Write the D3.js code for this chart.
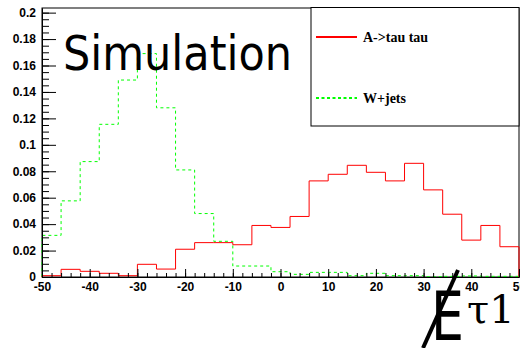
<!DOCTYPE html>
<html>
<head>
<meta charset="utf-8">
<script src="https://cdn.jsdelivr.net/npm/d3@7"></script>
<style>
  body { margin: 0; background: #fff; }
  svg { display: block; }
  .axis text { font-family: "Liberation Sans", Arial, sans-serif; font-weight: bold; font-size: 12px; fill: #000; }
  .axis path, .axis line { stroke: #000; }
</style>
</head>
<body>
<svg id="chart" width="520" height="348"></svg>
<script>
var svg = d3.select("#chart");

// bin edges: -50 .. 50, width 4
var binEdges = d3.range(-50, 50, 4);
var signalValues = [0.001, 0.0058, 0.0043, 0.0028, 0.001, 0.0096, 0.006, 0.021, 0.026, 0.026,
  0.0244, 0.039, 0.0375, 0.0458, 0.0727, 0.0777, 0.0845, 0.0792, 0.0727, 0.086,
  0.0659, 0.0475, 0.0279, 0.039, 0.0229];
var wjetsValues = [0.0315, 0.0576, 0.0873, 0.1155, 0.149, 0.169, 0.128, 0.081, 0.048, 0.027,
  0.0083, 0.0083, 0.004, 0.002, 0.0035, 0.0035, 0.001, 0.0028, 0.001, 0.001,
  0.0002, 0.0005, 0.0008, 0.0005, 0.0005];
var xTicks = [-50, -40, -30, -20, -10, 0, 10, 20, 30, 40, 50];
var yTicks = [0, 0.02, 0.04, 0.06, 0.08, 0.1, 0.12, 0.14, 0.16, 0.18, 0.2];
var legendNames = ["A->tau tau", "W+jets"];
var legendColors = ["#ff0000", "#00ff00"];

var padLeft = 42, padRight = 519, padTop = 8, padBottom = 277;

var xScale = d3.scaleLinear().domain([-50, 50]).range([padLeft, padRight]);
var yScale = d3.scaleLinear().domain([0, 0.2035]).range([padBottom, padTop]);

// frame
svg.append("rect")
  .attr("x", padLeft).attr("y", padTop)
  .attr("width", padRight - padLeft).attr("height", padBottom - padTop)
  .attr("fill", "none").attr("stroke", "#000");

var step = d3.line()
  .x(function(d){ return xScale(d.x); })
  .y(function(d){ return yScale(d.y); })
  .curve(d3.curveStepAfter);

function histPoints(values){
  var pts = [{x: -50, y: 0}];
  for(var i = 0; i < values.length; i++){
    pts.push({x: binEdges[i], y: values[i]});
  }
  pts.push({x: 50, y: values[values.length - 1]});
  pts.push({x: 50, y: 0});
  return pts;
}

svg.append("path")
  .datum(histPoints(wjetsValues))
  .attr("d", step)
  .attr("fill", "none")
  .attr("stroke", legendColors[1])
  .attr("stroke-width", 1)
  .attr("stroke-dasharray", "3,3");

svg.append("path")
  .datum(histPoints(signalValues))
  .attr("d", step)
  .attr("fill", "none")
  .attr("stroke", legendColors[0])
  .attr("stroke-width", 1);

// y axis (ticks pointing inside)
var yAxis = d3.axisLeft(yScale)
  .tickValues(yTicks)
  .tickSizeInner(-14).tickSizeOuter(0).tickPadding(6)
  .tickFormat(function(d){ return d === 0 ? "0" : String(+d.toFixed(2)); });
var yMinor = d3.axisLeft(yScale)
  .tickValues(d3.range(0, 0.2035, 0.005))
  .tickSizeInner(-7).tickSizeOuter(0)
  .tickFormat("");

svg.append("g").attr("class", "axis")
  .attr("transform", "translate(" + padLeft + ",0)")
  .call(yMinor);
svg.append("g").attr("class", "axis")
  .attr("transform", "translate(" + padLeft + ",0)")
  .call(yAxis);

// x axis
var xAxis = d3.axisBottom(xScale)
  .tickValues(xTicks)
  .tickSizeInner(-8).tickSizeOuter(0).tickPadding(5)
  .tickFormat(function(d){ return String(d); });
var xMinor = d3.axisBottom(xScale)
  .tickValues(d3.range(-50, 51, 2))
  .tickSizeInner(-4).tickSizeOuter(0)
  .tickFormat("");

svg.append("g").attr("class", "axis")
  .attr("transform", "translate(0," + padBottom + ")")
  .call(xMinor);
svg.append("g").attr("class", "axis")
  .attr("transform", "translate(0," + padBottom + ")")
  .call(xAxis);

// legend
var legend = svg.append("g");
legend.append("rect")
  .attr("x", 311).attr("y", 7.5)
  .attr("width", 208).attr("height", 118.5)
  .attr("fill", "#fff").attr("stroke", "#000");

legendNames.forEach(function(name, i){
  var ly = 37 + i * 61;
  legend.append("line")
    .attr("x1", 316).attr("x2", 357)
    .attr("y1", ly).attr("y2", ly)
    .attr("stroke", legendColors[i])
    .attr("stroke-width", 2)
    .attr("stroke-dasharray", i == 1 ? "3,2.5" : null);
  legend.append("text")
    .attr("x", 363).attr("y", ly)
    .attr("dy", "0.35em")
    .style("font-family", "'Liberation Serif', 'Times New Roman', serif")
    .style("font-weight", "bold")
    .style("font-size", "14px")
    .text(name);
});

// "Simulation" label
svg.append("text")
  .attr("x", 63).attr("y", 70)
  .attr("textLength", 229)
  .attr("lengthAdjust", "spacingAndGlyphs")
  .style("font-family", "'Comic Sans MS', 'DejaVu Sans', sans-serif")
  .style("font-size", "48px")
  .text("Simulation");

// axis title: slashed E with tau1
svg.append("text")
  .attr("x", 431).attr("y", 340)
  .attr("textLength", 33)
  .attr("lengthAdjust", "spacingAndGlyphs")
  .style("font-family", "'DejaVu Sans', sans-serif")
  .style("font-size", "68px")
  .text("E");
svg.append("line")
  .attr("x1", 423).attr("y1", 348)
  .attr("x2", 458).attr("y2", 270)
  .attr("stroke", "#000").attr("stroke-width", 4);
svg.append("text")
  .attr("x", 467).attr("y", 323)
  .style("font-family", "'DejaVu Serif', serif")
  .style("font-size", "40px")
  .text("τ1");
</script>
</body>
</html>
